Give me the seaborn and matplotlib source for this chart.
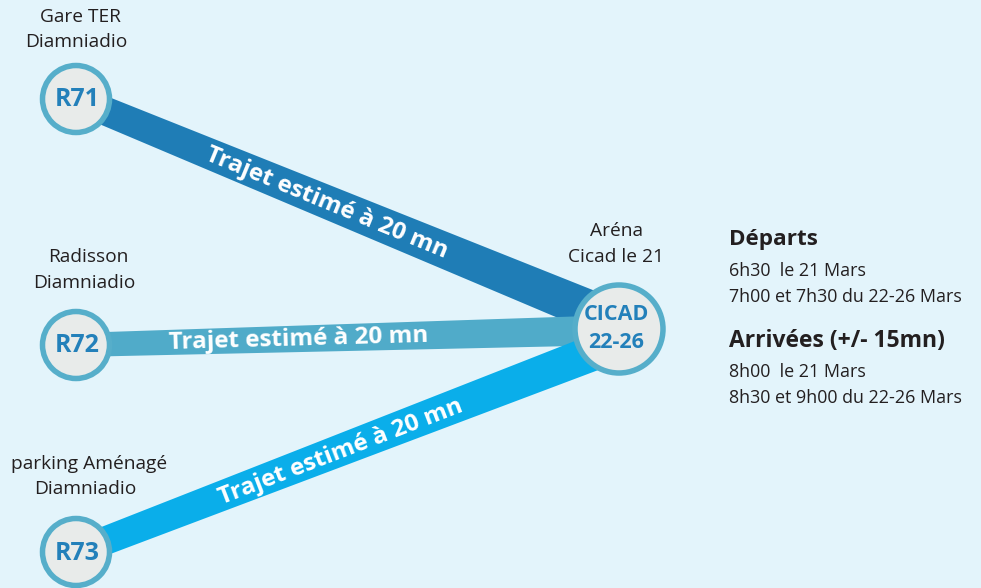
import numpy as np
import pandas as pd
import matplotlib.pyplot as plt
import seaborn as sns

# data
codes = ["R71", "R72", "R73"]
place_top = ["Gare TER", "Radisson", "parking Aménagé"]
place_bottom = ["Diamniadio", "Diamniadio", "Diamniadio"]
hub_code = ["CICAD", "22-26"]
hub_place = ["Aréna", "Cicad le 21"]
trip_label = "Trajet estimé à 20 mn"
dep_title = "Départs"
dep_lines = ["6h30  le 21 Mars", "7h00 et 7h30 du 22-26 Mars"]
arr_title = "Arrivées (+/- 15mn)"
arr_lines = ["8h00  le 21 Mars", "8h30 et 9h00 du 22-26 Mars"]

# layout (pixel coordinates)
stop_xy = [(76, 99), (76, 345), (76, 552)]
hub_xy = (619, 329)
band_end = [(619, 322), (619, 330), (619, 343)]
band_w = [(28, 40), (24, 30), (28, 36)]
band_colors = ["#1f7db6", "#50abc9", "#0aaeea"]
label_xy = [(327, 203), (298, 339), (341, 452)]
place_y = [(17, 42), (257, 283), (464, 489)]
place_x = [80, 88, 89]
bg = "#e3f4fb"
ring = "#56aeca"
face = "#e8ebea"
code_col = "#2380ba"
txt_col = "#231f20"

sns.set_theme(style="white")
plt.rcParams["font.family"] = ["Open Sans", "DejaVu Sans"]

fig = plt.figure(figsize=(9.81, 5.88), dpi=100, facecolor=bg)
ax = fig.add_axes([0, 0, 1, 1])
ax.set_facecolor(bg)

# bands
for p0, p1, (w0, w1), col, lxy in zip(stop_xy, band_end, band_w, band_colors, label_xy):
    p0 = np.array(p0, float)
    p1 = np.array(p1, float)
    d = (p1 - p0) / np.linalg.norm(p1 - p0)
    n = np.array([-d[1], d[0]])
    poly = np.array([p0 + n * w0 / 2, p1 + n * w1 / 2, p1 - n * w1 / 2, p0 - n * w0 / 2])
    ax.fill(poly[:, 0], poly[:, 1], color=col, lw=0, zorder=1)
    ang = np.degrees(np.arctan2(-(p1[1] - p0[1]), p1[0] - p0[0]))
    ax.text(lxy[0], lxy[1], trip_label, color="white", fontsize=17.5, fontweight="bold",
            rotation=ang, rotation_mode="anchor", ha="center", va="center", zorder=2)

# nodes
nodes = pd.DataFrame({
    "x": [p[0] for p in stop_xy] + [hub_xy[0]],
    "y": [p[1] for p in stop_xy] + [hub_xy[1]],
    "kind": ["stop"] * 3 + ["hub"],
})
px2pt = 72 / 100
stop_s = (2 * 33.5 * px2pt) ** 2
hub_s = (2 * 44 * px2pt) ** 2
sns.scatterplot(data=nodes, x="x", y="y", size="kind", sizes={"stop": stop_s, "hub": hub_s},
                color=face, edgecolor=ring, linewidth=5.5 * px2pt, legend=False, ax=ax, zorder=3)
ax.set_xlim(0, 981)
ax.set_ylim(588, 0)
ax.axis("off")

for code, (x, y), top, bot, px, (y1, y2) in zip(codes, stop_xy, place_top, place_bottom,
                                                 place_x, place_y):
    ax.text(x + 1, y + 1, code, color=code_col, fontsize=18, fontweight="bold",
            ha="center", va="center", zorder=4)
    ax.text(px, y1, top, color=txt_col, fontsize=13.8, ha="center", va="center")
    ax.text(px - 4, y2, bot, color=txt_col, fontsize=13.8, ha="center", va="center")

ax.text(hub_xy[0] - 3, hub_xy[1] - 14, hub_code[0], color=code_col, fontsize=15.5,
        fontweight="bold", ha="center", va="center", zorder=4)
ax.text(hub_xy[0] - 3, hub_xy[1] + 14, hub_code[1], color=code_col, fontsize=15.5,
        fontweight="bold", ha="center", va="center", zorder=4)
ax.text(616, 231, hub_place[0], color=txt_col, fontsize=13.8, ha="center", va="center")
ax.text(616, 257, hub_place[1], color=txt_col, fontsize=13.8, ha="center", va="center")

# schedule
x0 = 729
ax.text(x0, 240, dep_title, color=txt_col, fontsize=16.2, fontweight="bold", va="center")
for i, line in enumerate(dep_lines):
    ax.text(x0, 271 + 26 * i, line, color=txt_col, fontsize=12.9, va="center")
ax.text(x0, 341, arr_title, color=txt_col, fontsize=16.5, fontweight="bold", va="center")
for i, line in enumerate(arr_lines):
    ax.text(x0, 372 + 26 * i, line, color=txt_col, fontsize=12.9, va="center")

fig.savefig("out.png", dpi=100, facecolor=bg)
